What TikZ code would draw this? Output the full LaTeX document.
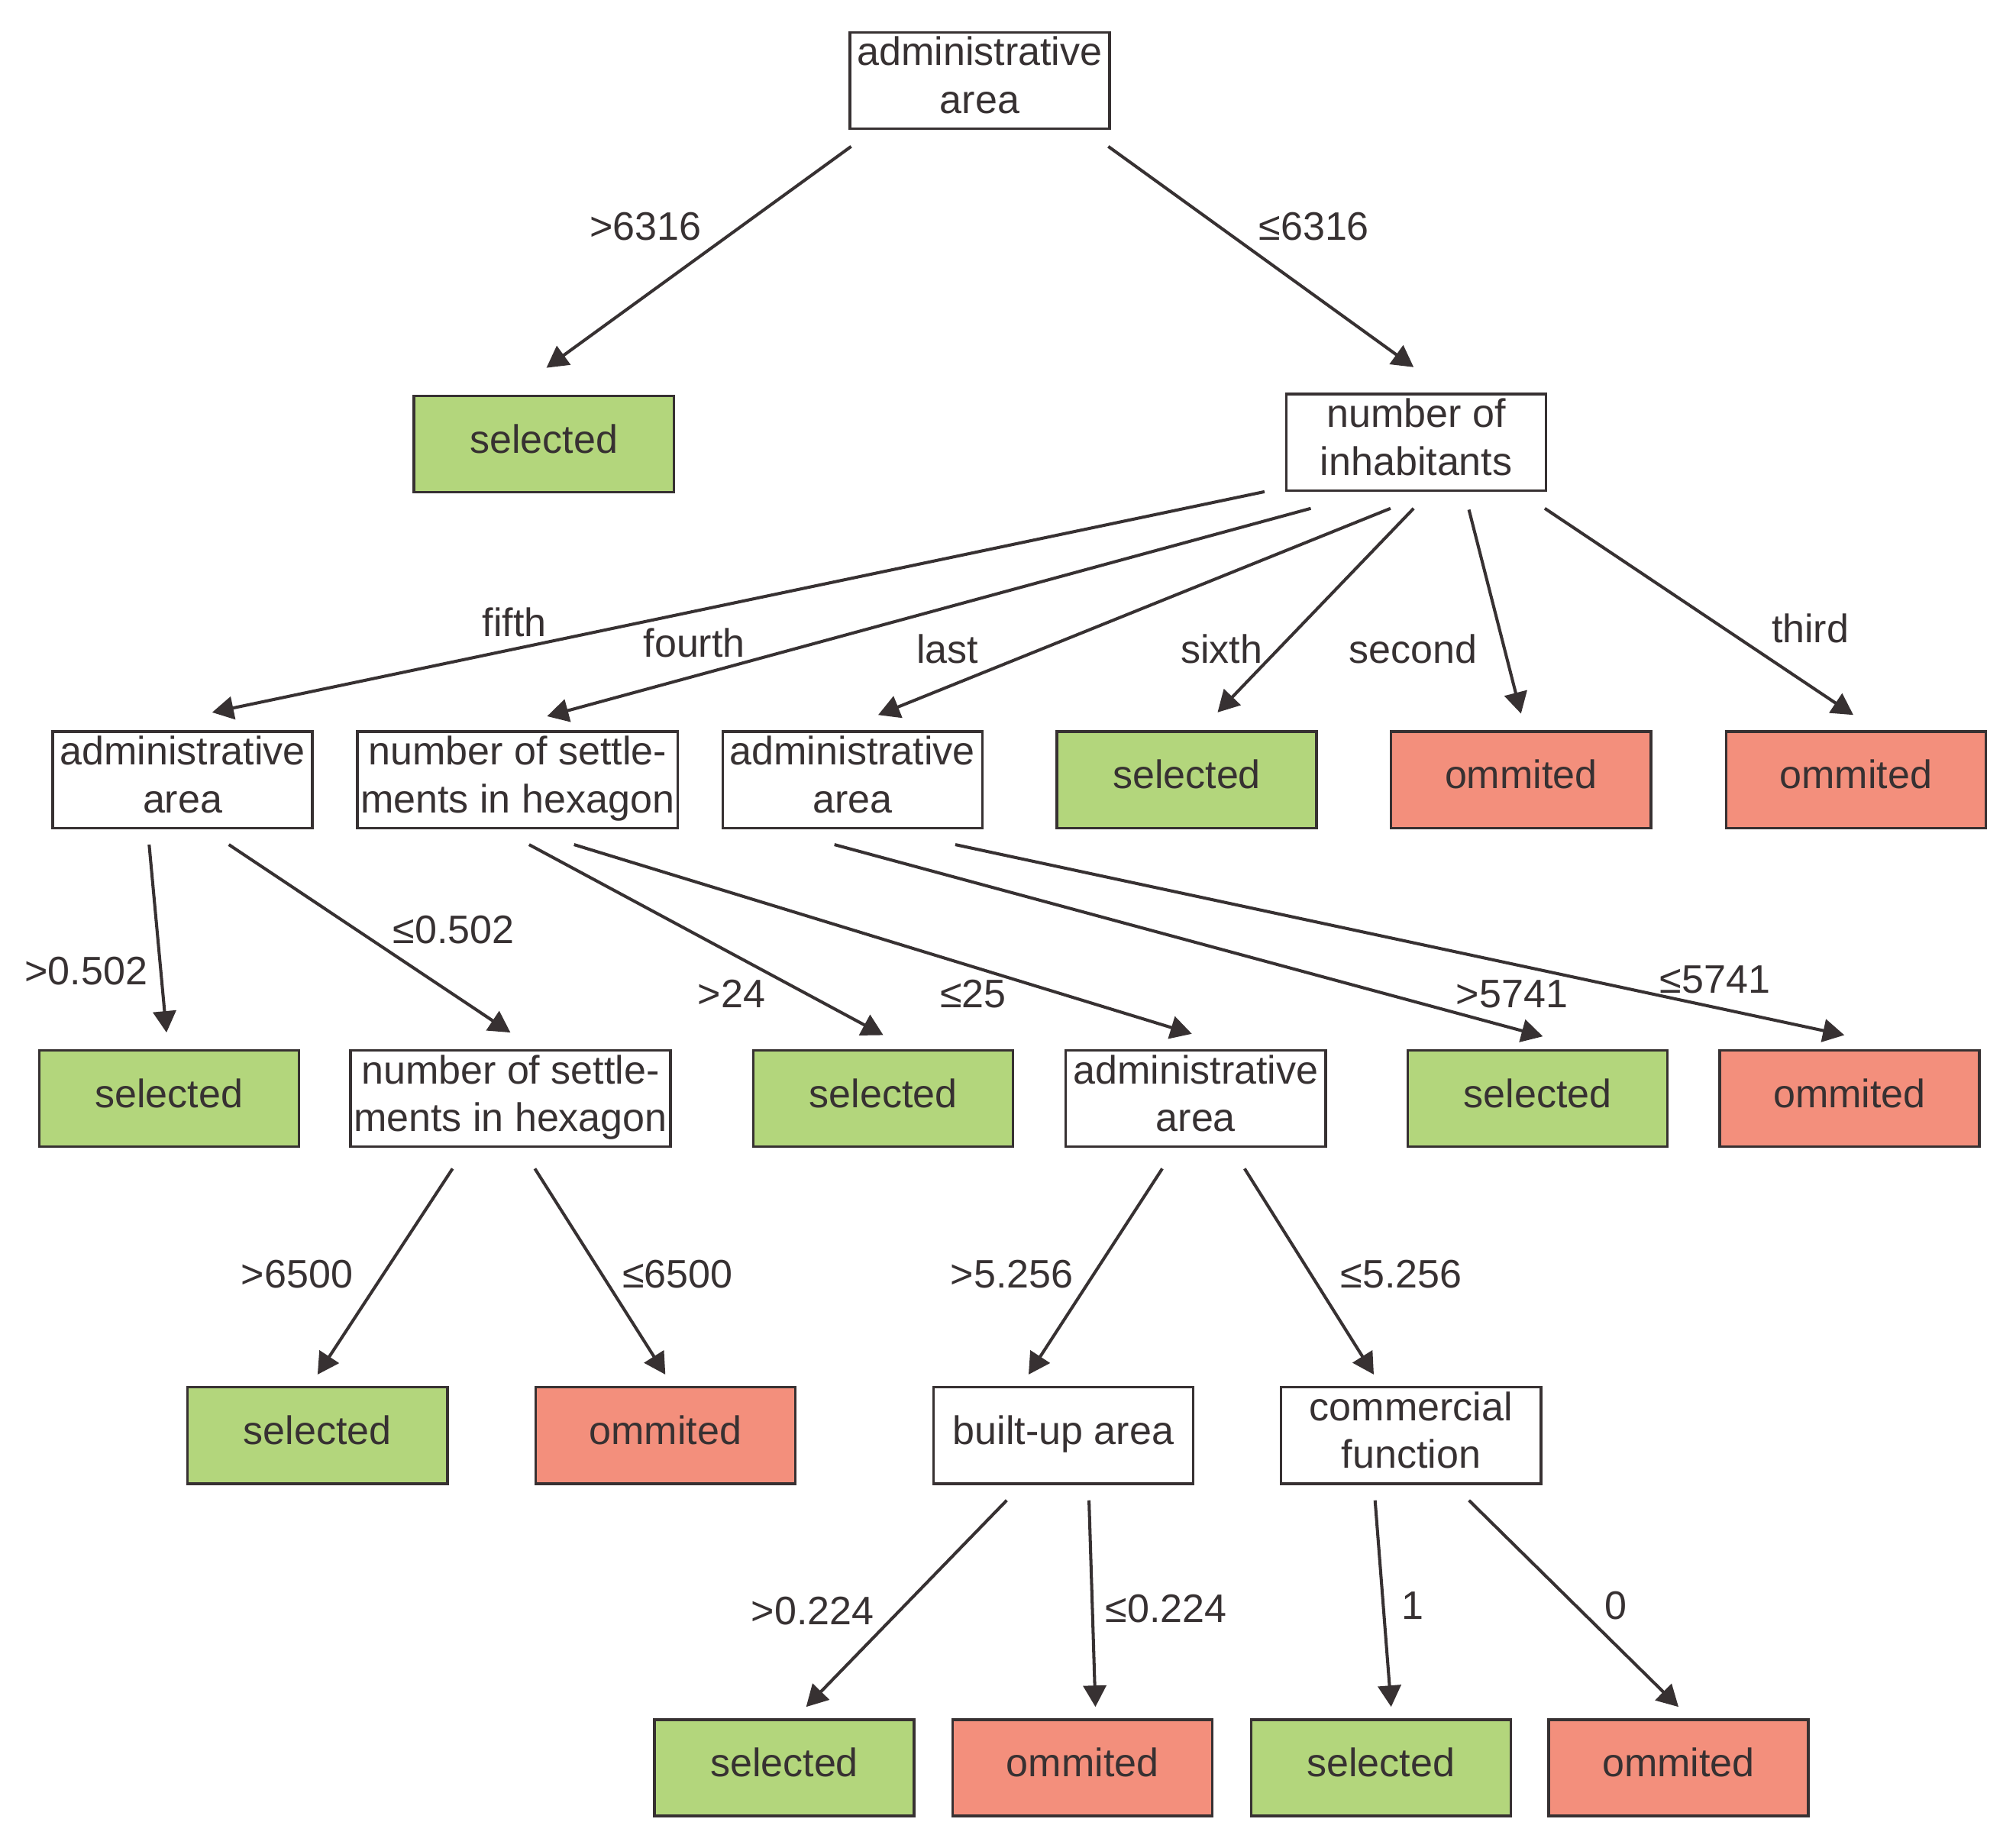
\documentclass[tikz,border=0pt]{standalone}
\usepackage{fontspec}
\setmainfont{Liberation Sans}
\usetikzlibrary{arrows.meta, calc, positioning}
\definecolor{ink}{RGB}{55,49,50}
\definecolor{selgreen}{RGB}{179,214,124}
\definecolor{omred}{RGB}{243,143,124}

\begin{document}
\begin{tikzpicture}[x=0.016837cm, y=-0.016837cm, font=\fontsize{14.8}{17.8}\selectfont,
  box/.style = {draw=ink, line width=0.95pt, minimum width=3.4cm, minimum height=1.26cm, inner sep=0pt, text depth=4pt, align=center, text=ink},
  wide/.style = {box, minimum width=4.19cm},
  sel/.style = {box, fill=selgreen},
  omitted/.style = {box, fill=omred},
  lbl/.style = {text=ink, inner sep=0pt},
  arr/.style = {draw=ink, line width=1.15pt, -{Triangle[length=0.28cm, width=0.3cm]}}]
      \useasboundingbox (0,0) rectangle (1568,1437);

      % level 1 and 2
      \node[box] (root) at (762,62.5) {administrative\\area};
      \node[sel] (sel1) at (423,345.5) {selected};
      \node[box] (inhab) at (1101.5,344) {number of\\inhabitants};

      % level 3
      \node[box] (adm2) at (142,606.5) {administrative\\area};
      \node[wide] (hex1) at (402.5,606.5) {number of settle-\\ments in hexagon};
      \node[box] (adm3) at (663,606.5) {administrative\\area};
      \node[sel] (sel2) at (923,606.5) {selected};
      \node[omitted] (om1) at (1183,606.5) {ommited};
      \node[omitted] (om2) at (1443.5,606.5) {ommited};

      % level 4
      \node[sel] (sel3) at (131.5,854.5) {selected};
      \node[wide] (hex2) at (397,854.5) {number of settle-\\ments in hexagon};
      \node[sel] (sel4) at (687,854.5) {selected};
      \node[box] (adm4) at (930,854.5) {administrative\\area};
      \node[sel] (sel5) at (1196,854.5) {selected};
      \node[omitted] (om3) at (1438.5,854.5) {ommited};

      % level 5
      \node[sel] (sel6) at (247,1116.5) {selected};
      \node[omitted] (om4) at (517.5,1116.5) {ommited};
      \node[box] (built) at (827,1116.5) {built-up area};
      \node[box] (comm) at (1097.5,1116.5) {commercial\\function};

      % level 6
      \node[sel] (sel7) at (610,1375) {selected};
      \node[omitted] (om5) at (842,1375) {ommited};
      \node[sel] (sel8) at (1074,1375) {selected};
      \node[omitted] (om6) at (1305.5,1375) {ommited};

      % arrows
      \draw[arr] ($(root.south)+(-100,13)$) -- ($(sel1.north)+(2,-21)$);
      \draw[arr] ($(root.south)+(100,13)$) -- ($(inhab.north)+(-2,-20)$);

      \draw[arr] ($(inhab.south)+(-118,0)$) -- ($(adm2.north)+(23,-14)$);
      \draw[arr] ($(inhab.south)+(-82,13)$) -- ($(hex1.north)+(23,-11)$);
      \draw[arr] ($(inhab.south)+(-20,13)$) -- ($(adm3.north)+(20,-12)$);
      \draw[arr] ($(inhab.south)+(-2,13)$) -- ($(sel2.north)+(24,-14)$);
      \draw[arr] ($(inhab.south)+(41,14)$) -- ($(om1.north)+(0,-13)$);
      \draw[arr] ($(inhab.south)+(100,13)$) -- ($(om2.north)+(-2,-12)$);

      \draw[arr] ($(adm2.south)+(-26,12)$) -- ($(sel3.north)+(-2,-13)$);
      \draw[arr] ($(adm2.south)+(36,12)$) -- ($(hex2.north)+(0,-13)$);
      \draw[arr] ($(hex1.south)+(9,12)$) -- ($(sel4.north)+(0,-11)$);
      \draw[arr] ($(hex1.south)+(44,12)$) -- ($(adm4.north)+(-3,-12)$);
      \draw[arr] ($(adm3.south)+(-14,12)$) -- ($(sel5.north)+(4,-10)$);
      \draw[arr] ($(adm3.south)+(80,12)$) -- ($(om3.north)+(-4,-11)$);

      \draw[arr] ($(hex2.south)+(-45,16)$) -- ($(sel6.north)+(0,-9)$);
      \draw[arr] ($(hex2.south)+(19,16)$) -- ($(om4.north)+(0,-9)$);
      \draw[arr] ($(adm4.south)+(-26,16)$) -- ($(built.north)+(-27,-9)$);
      \draw[arr] ($(adm4.south)+(38,16)$) -- ($(comm.north)+(-29,-9)$);

      \draw[arr] ($(built.south)+(-44,12)$) -- ($(sel7.north)+(17,-9)$);
      \draw[arr] ($(built.south)+(20,12)$) -- ($(om5.north)+(10,-9)$);
      \draw[arr] ($(comm.south)+(-28,12)$) -- ($(sel8.north)+(8,-9)$);
      \draw[arr] ($(comm.south)+(45,12)$) -- ($(om6.north)+(0,-9)$);

      % labels
      \node[lbl] (t1) at (502,176) {>6316};
      \node[lbl] (t2) at (1022,176) {≤6316};
      \node[lbl] (t3) at (400,484) {fifth};
      \node[lbl] (t4) at (540,500) {fourth};
      \node[lbl] (t5) at (737,505) {last};
      \node[lbl] (t6) at (950,505) {sixth};
      \node[lbl] (t7) at (1099,505) {second};
      \node[lbl] (t8) at (1408,489) {third};
      \node[lbl] (t9) at (67,755) {>0.502};
      \node[lbl] (t10) at (353,723) {≤0.502};
      \node[lbl] (t11) at (569,773) {>24};
      \node[lbl] (t12) at (757,773) {≤25};
      \node[lbl] (t13) at (1176,773) {>5741};
      \node[lbl] (t14) at (1334,762) {≤5741};
      \node[lbl] (t15) at (231,991) {>6500};
      \node[lbl] (t16) at (527,991) {≤6500};
      \node[lbl] (t17) at (787,991) {>5.256};
      \node[lbl] (t18) at (1090,991) {≤5.256};
      \node[lbl] (t19) at (632,1253) {>0.224};
      \node[lbl] (t20) at (907,1251) {≤0.224};
      \node[lbl] (t21) at (1099,1249) {1};
      \node[lbl] (t22) at (1257,1249) {0};
\end{tikzpicture}
\end{document}
